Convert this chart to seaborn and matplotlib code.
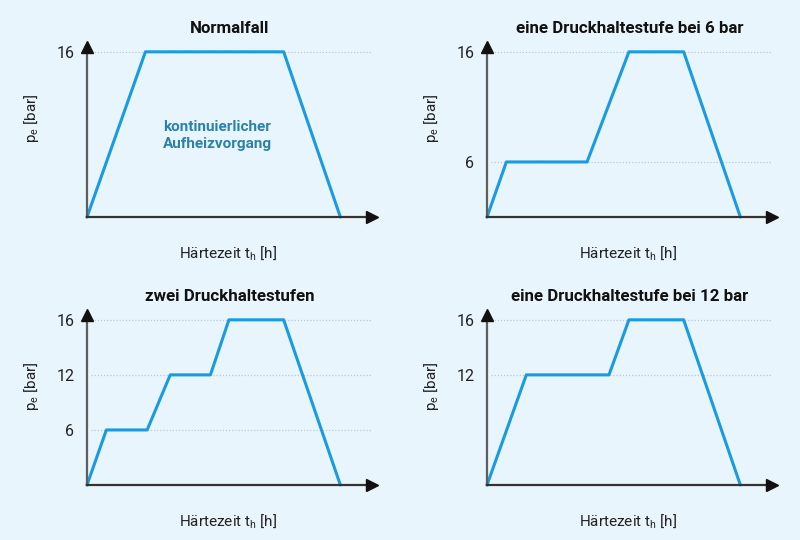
import numpy as np
import pandas as pd
import matplotlib
matplotlib.use("Agg")
import matplotlib.pyplot as plt
import seaborn as sns

# ---- data (schematic time axis 0..100, pressure in bar) ----
titles = ["Normalfall", "eine Druckhaltestufe bei 6 bar",
          "zwei Druckhaltestufen", "eine Druckhaltestufe bei 12 bar"]
x_normal = [0, 20.5, 69.0, 88.9]
y_normal = [0, 16, 16, 0]
x_six = [0, 6.8, 35.1, 49.8, 69.0, 88.9]
y_six = [0, 6, 6, 16, 16, 0]
x_two = [0, 6.8, 21.1, 29.2, 43.3, 49.8, 69.0, 88.9]
y_two = [0, 6, 6, 12, 12, 16, 16, 0]
x_twelve = [0, 13.8, 42.8, 49.8, 69.0, 88.9]
y_twelve = [0, 12, 12, 16, 16, 0]
ticks_normal = [16]
ticks_six = [6, 16]
ticks_two = [6, 12, 16]
ticks_twelve = [12, 16]
annotation = "kontinuierlicher\nAufheizvorgang"
xlabel = "Härtezeit t$_\\mathregular{h}$ [h]"
ylabel = "p$_\\mathregular{e}$ [bar]"

series = [(x_normal, y_normal, ticks_normal),
          (x_six, y_six, ticks_six),
          (x_two, y_two, ticks_two),
          (x_twelve, y_twelve, ticks_twelve)]

BG = "#e9f5fc"
LINE = "#1a9be0"
GRID = "#b9cad6"
ANN = "#2b82a8"

sns.set_theme(style="white")
plt.rcParams["font.family"] = ["Roboto", "DejaVu Sans"]
plt.rcParams["mathtext.fontset"] = "custom"
plt.rcParams["mathtext.rm"] = "Roboto"

# schematic (piecewise linear) pressure scale: 6, 12, 16 equally spaced
_k_data = [-6, 0, 6, 12, 16, 20]
_k_scale = [-1, 0, 1, 2, 3, 4]
def fwd(v):
    return np.interp(v, _k_data, _k_scale)
def inv(v):
    return np.interp(v, _k_scale, _k_data)

fig = plt.figure(figsize=(8, 5.4), dpi=100, facecolor=BG)

# axes origins in pixels (x from left, y from top)
origins = [(87, 217), (487, 217), (87, 485), (487, 485)]
W, H = 285, 170

for (xs, ys, ticks), title, (ox, oy) in zip(series, titles, origins):
    ax = fig.add_axes([ox / 800, (540 - oy) / 540, W / 800, H / 540])
    ax.set_facecolor(BG)
    ax.set_yscale("function", functions=(fwd, inv))
    ax.set_xlim(0, 100)
    ax.set_ylim(0, 16.35)
    for t in ticks:
        ax.plot([1.5, 100], [t, t], color=GRID, lw=0.9, ls=(0, (1, 1.5)), zorder=1)
    df = pd.DataFrame({"t": xs, "p": ys})
    sns.lineplot(data=df, x="t", y="p", ax=ax, color=LINE, lw=2.2,
                 sort=False, estimator=None, zorder=3, clip_on=False)
    for s in ["top", "right"]:
        ax.spines[s].set_visible(False)
    ax.spines["left"].set_color("#5f5f5f")
    ax.spines["bottom"].set_color("#333333")
    for s in ["left", "bottom"]:
        ax.spines[s].set_linewidth(1.6)
        ax.spines[s].set_zorder(4)
    ax.plot(1, 0, marker=">", ms=9, color="#111111", transform=ax.transAxes,
            clip_on=False, zorder=5)
    ax.plot(0, 1, marker="^", ms=9, color="#111111", transform=ax.transAxes,
            clip_on=False, zorder=5)
    ax.set_xticks([])
    ax.set_yticks(ticks)
    ax.set_yticklabels([str(t) for t in ticks])
    ax.yaxis.set_minor_locator(matplotlib.ticker.NullLocator())
    ax.tick_params(axis="y", length=0, pad=9, labelsize=11.5, labelcolor="#222222")
    ax.set_xlabel("")
    ax.set_ylabel("")
    ax.text(0.495, -0.215, xlabel, transform=ax.transAxes, ha="center",
            va="center", fontsize=11, color="#222222")
    ax.text(-0.195, 0.58, ylabel, transform=ax.transAxes, ha="center",
            va="center", rotation=90, fontsize=11, color="#222222")
    ax.text(0.5, 1.11, title, transform=ax.transAxes, ha="center",
            va="center", fontsize=12.2, fontweight="bold", color="#111111")
    if title == "Normalfall":
        ax.text(0.267, 0.48, annotation, transform=ax.transAxes, ha="left",
                va="center", fontsize=11, fontweight="bold", color=ANN,
                linespacing=1.3)

fig.savefig("out.png", dpi=100, facecolor=BG)
